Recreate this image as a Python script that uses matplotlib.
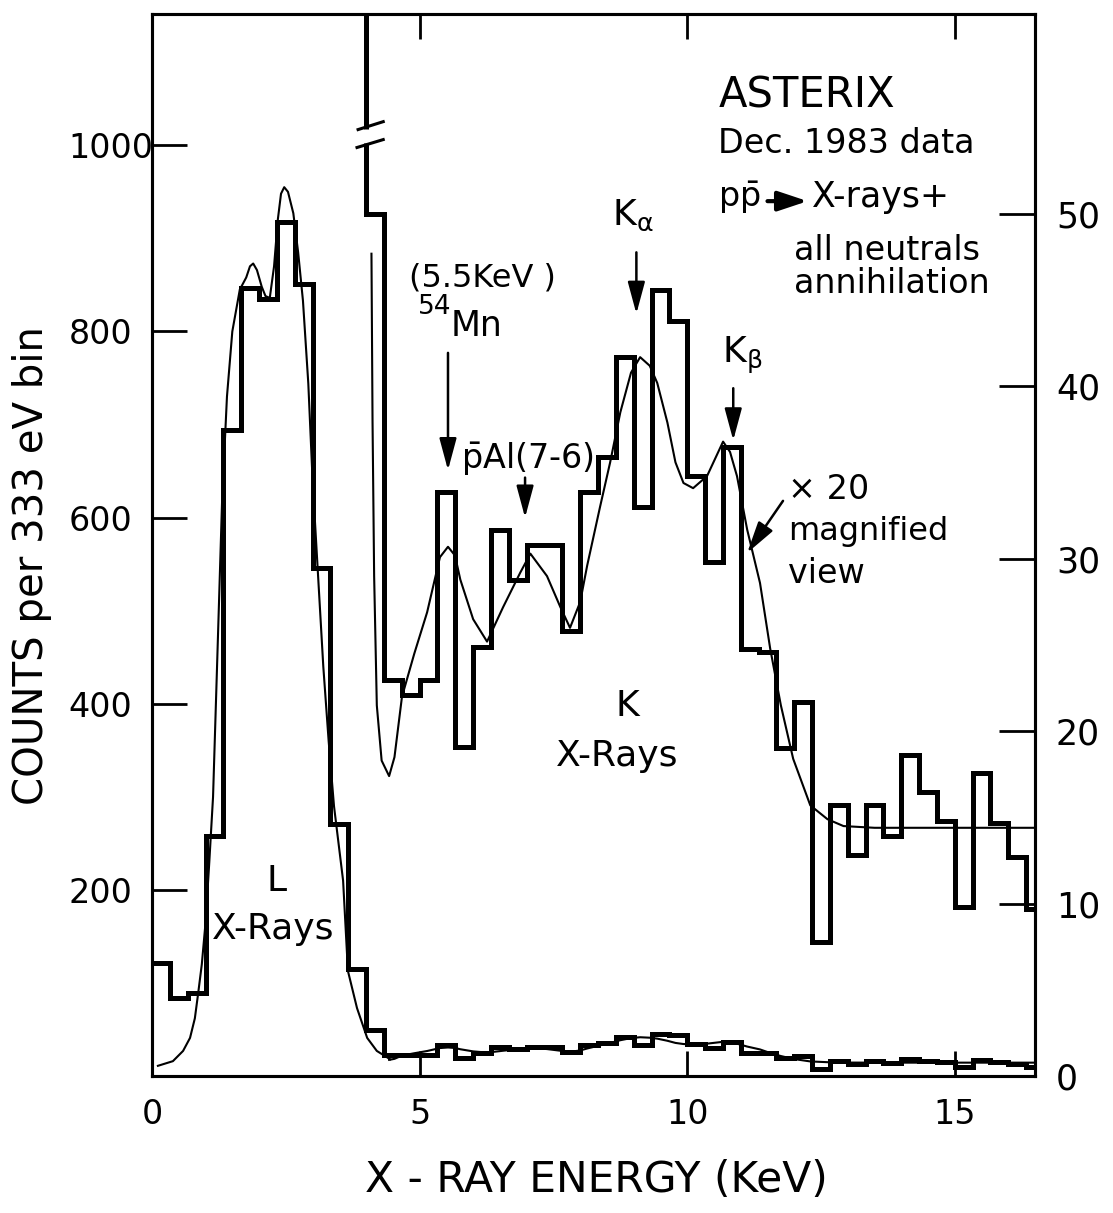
import matplotlib
matplotlib.use("Agg")
import matplotlib.pyplot as plt
import numpy as np
from matplotlib import font_manager

# counts per 333 eV bin, bins start at 0 keV
bin_width = 1 / 3
counts = [122, 84, 89, 258, 694, 847, 835, 918, 851, 546, 271, 115,
          50, 23.0, 22.1, 23.0, 33.9, 19.1, 24.9, 31.7, 28.8, 30.8, 30.8, 25.8,
          33.9, 35.9, 41.7, 33.0, 45.6, 43.8, 34.8, 29.8, 36.5, 24.8, 24.6, 19.0,
          21.7, 7.8, 15.7, 12.8, 15.7, 13.9, 18.6, 16.5, 14.8, 9.8, 17.6, 14.7,
          12.7, 9.7]
# first bin of the x20 magnified view (right axis), it is off scale
magnified_start = 11

# fitted curve through the L x-ray peak (left axis)
l_fit_energy = [0.11, 0.39, 0.58, 0.71, 0.80, 0.86, 0.93, 1.00, 1.07, 1.14,
                1.22, 1.31, 1.40, 1.50, 1.64, 1.76, 1.83, 1.89, 1.96, 2.05,
                2.12, 2.20, 2.28, 2.35, 2.41, 2.47, 2.54, 2.64, 2.73, 2.82,
                2.92, 3.00, 3.10, 3.20, 3.30, 3.40, 3.57, 3.66, 3.83, 4.02,
                4.20, 4.45]
l_fit_counts = [11, 16, 27, 41, 62, 88, 120, 165, 230, 300,
                450, 620, 730, 800, 845, 858, 870, 873, 866, 848,
                838, 836, 870, 920, 948, 955, 950, 927, 885, 833,
                744, 640, 540, 440, 360, 290, 210, 113, 73, 41,
                27, 18]

# fitted curve through the K x-ray region (x20 view, right axis)
k_fit_energy = [4.10, 4.12, 4.15, 4.20, 4.29, 4.43, 4.53, 4.67, 4.90, 5.14,
                5.38, 5.53, 5.66, 5.76, 6.00, 6.26, 6.56, 6.88, 7.07, 7.38,
                7.63, 7.81, 8.00, 8.13, 8.37, 8.56, 8.75, 8.95, 9.12, 9.30,
                9.44, 9.63, 9.78, 9.93, 10.11, 10.37, 10.55, 10.67, 10.80, 10.93,
                11.12, 11.36, 11.55, 11.75, 11.98, 12.30, 12.62, 12.92, 13.50, 14.50,
                15.50, 16.50]
k_fit_counts = [47.7, 38.0, 29.0, 21.5, 18.3, 17.4, 18.5, 22.0, 24.5, 26.9,
                30.1, 30.7, 30.2, 28.8, 26.5, 25.2, 27.2, 29.2, 30.3, 29.0,
                27.2, 26.0, 27.5, 29.6, 33.0, 35.6, 38.5, 40.8, 41.7, 41.2,
                40.2, 37.9, 35.6, 34.4, 34.1, 34.8, 36.0, 36.8, 36.2, 34.8,
                31.7, 28.6, 24.8, 21.5, 18.4, 15.7, 14.9, 14.5, 14.4, 14.4,
                14.4, 14.4]

x_ticks = [0, 5, 10, 15]
left_ticks = [200, 400, 600, 800, 1000]
right_ticks = [0, 10, 20, 30, 40, 50]

installed = {f.name for f in font_manager.fontManager.ttflist}
if "Liberation Sans Narrow" in installed:
    font_name = "Liberation Sans Narrow"
    fs = 1.3
else:
    font_name = "DejaVu Sans"
    fs = 1.0
plt.rcParams["font.family"] = [font_name, "DejaVu Sans"]
plt.rcParams["mathtext.fontset"] = "custom"
plt.rcParams["mathtext.rm"] = font_name
plt.rcParams["mathtext.it"] = font_name
plt.rcParams["mathtext.bf"] = font_name

edges = np.arange(len(counts) + 1) * bin_width
k_energy = np.array(k_fit_energy)
k_counts = np.array(k_fit_counts)

figure = plt.figure(figsize=(11.13, 12.13), dpi=100)
ax = figure.add_axes([0.1366, 0.1129, 0.7934, 0.8755])
ax2 = ax.twinx()

ax.set_xlim(0, 16.5)
ax.set_ylim(0, 1141)
ax2.set_ylim(0, 61.6)

# full spectrum and its fit
ax.stairs(counts, edges, baseline=None, color="k", lw=3.6, zorder=3)
ax.plot(l_fit_energy, l_fit_counts, color="k", lw=1.5, zorder=4)
low = k_energy >= 4.43
ax.plot(k_energy[low], k_counts[low], color="k", lw=1.5, zorder=4)

# magnified view
ax2.stairs(counts[magnified_start:], edges[magnified_start:], baseline=None,
           color="k", lw=3.6, zorder=3)
ax2.plot(k_fit_energy, k_fit_counts, color="k", lw=1.5, zorder=4)

# axis break on the off-scale bin
ax2.plot([4.0, 4.0], [54.1, 54.95], color="white", lw=8, solid_capstyle="butt", zorder=5)
ax2.plot([3.85, 4.32], [54.9, 55.36], color="k", lw=2.2, zorder=6)
ax2.plot([3.83, 4.32], [53.86, 54.32], color="k", lw=2.2, zorder=6)

for spine in list(ax.spines.values()) + list(ax2.spines.values()):
    spine.set_linewidth(2.2)

ax.set_xticks(x_ticks)
ax.set_yticks(left_ticks)
ax2.set_yticks(right_ticks)
ax.tick_params(axis="x", direction="in", length=18, width=2, top=True,
               labelsize=24 * fs, pad=16)
ax.tick_params(axis="y", direction="in", length=25, width=2, right=False,
               labelsize=24 * fs, pad=60)
for label in ax.get_yticklabels():
    label.set_horizontalalignment("left")
ax2.tick_params(axis="y", direction="in", length=26, width=2,
                labelsize=25 * fs, pad=15)

figure.text(0.0288, 0.534, "COUNTS per 333 eV bin", rotation=90,
            ha="center", va="center", fontsize=29 * fs)
figure.text(0.536, 0.0272, "X - RAY ENERGY (KeV)", ha="center", va="center",
            fontsize=30.5 * fs)

txt = 24 * fs
arrow = dict(arrowstyle="-|>,head_length=1.3,head_width=0.35", color="k",
             lw=1.8, shrinkA=0, shrinkB=0, mutation_scale=15)

ax.text(10.58, 1053, "ASTERIX", fontsize=30 * fs, ha="left", va="center")
ax.text(10.58, 1002, "Dec. 1983 data", fontsize=txt, ha="left", va="center")
ax.text(10.58, 944, r"p$\bar{\mathrm{p}}$", fontsize=txt, ha="left", va="center")
ax.annotate("", xy=(12.25, 940), xytext=(11.5, 940),
            arrowprops=dict(arrowstyle="-|>,head_length=1.2,head_width=0.4",
                            color="k", lw=3, shrinkA=0, shrinkB=0, mutation_scale=15))
ax.text(12.34, 944, "X-rays+", fontsize=25 * fs, ha="left", va="center")
ax.text(12.0, 887, "all neutrals", fontsize=txt, ha="left", va="center")
ax.text(12.0, 852, "annihilation", fontsize=txt, ha="left", va="center")

ax.text(8.99, 925, r"K$_{\mathrm{\alpha}}$", fontsize=26 * fs, ha="center", va="center")
ax.annotate("", xy=(9.05, 819), xytext=(9.05, 885), arrowprops=arrow)

ax.text(6.17, 857, "(5.5KeV )", fontsize=23 * fs, ha="center", va="center")
ax.text(5.29, 826, "54", fontsize=19 * fs, ha="center", va="center")
ax.text(5.57, 806, "Mn", fontsize=25 * fs, ha="left", va="center")
ax.annotate("", xy=(5.53, 651), xytext=(5.53, 777), arrowprops=arrow)

ax.text(7.01, 663, r"$\bar{\mathrm{p}}$Al(7-6)", fontsize=txt, ha="center", va="center")
ax.annotate("", xy=(6.97, 600), xytext=(6.97, 643), arrowprops=arrow)

ax.text(11.03, 774, r"K$_{\mathrm{\beta}}$", fontsize=26 * fs, ha="center", va="center")
ax.annotate("", xy=(10.86, 683), xytext=(10.86, 739), arrowprops=arrow)

ax.text(11.89, 630, "\u00d7 20", fontsize=txt, ha="left", va="center")
ax.text(11.89, 585, "magnified", fontsize=23 * fs, ha="left", va="center")
ax.text(11.89, 540, "view", fontsize=txt, ha="left", va="center")
ax.annotate("", xy=(11.12, 562), xytext=(11.79, 618), arrowprops=arrow)

ax.text(8.88, 398, "K", fontsize=26 * fs, ha="center", va="center")
ax.text(8.69, 344, "X-Rays", fontsize=26 * fs, ha="center", va="center")
ax.text(2.32, 210, "L", fontsize=26 * fs, ha="center", va="center")
ax.text(2.26, 158, "X-Rays", fontsize=26 * fs, ha="center", va="center")

plt.savefig("out.png", dpi=100)
